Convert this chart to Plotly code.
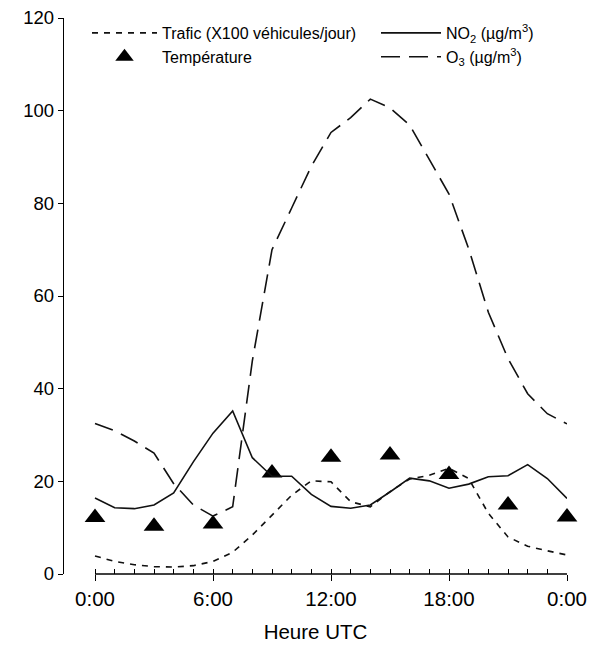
import plotly.graph_objects as go

hours = list(range(25))
trafic = [3.9, 2.7, 2.0, 1.6, 1.5, 1.8, 2.7, 4.7, 8.4, 12.7, 17.0, 20.1, 19.9,
          15.6, 14.5, 17.8, 20.5, 21.3, 22.8, 20.6, 13.1, 8.0, 6.0, 5.0, 4.1]
no2 = [16.4, 14.3, 14.1, 14.9, 17.5, 24.2, 30.4, 35.2, 25.1, 21.1, 21.1, 17.2, 14.6,
       14.2, 14.9, 17.7, 20.7, 20.1, 18.5, 19.4, 21.0, 21.2, 23.6, 20.6, 16.3]
o3 = [32.5, 30.9, 28.7, 26.1, 19.5, 14.9, 12.5, 14.5, 46.0, 70.0, 79.0, 88.0, 95.3,
      98.5, 102.5, 100.6, 96.9, 89.5, 82.0, 70.2, 56.5, 46.5, 38.9, 34.6, 32.4]
temp_hours = [0, 3, 6, 9, 12, 15, 18, 21, 24]
temperature = [12.2, 10.3, 10.8, 21.8, 25.2, 25.7, 21.5, 14.9, 12.3]

major_ticks = [0, 6, 12, 18, 24]
major_labels = ["0:00", "6:00", "12:00", "18:00", "0:00"]
y_ticks = [0, 20, 40, 60, 80, 100, 120]

FONT = "Liberation Sans, Arial, sans-serif"
INK = "#111111"

# the page body has an 8px margin, so the figure is 8px smaller than the window
OFF = 8
W, H = 596 - OFF, 648 - OFF
ML, MR, MT, MB = 64 - OFF, 29, 18 - OFF, 74
plot_w = W - ML - MR
plot_h = H - MT - MB
px_per_hour = (plot_w - 31) / 24.0
x_min = -31 / px_per_hour
x_range = [x_min, 24]


def px_x(px):
    return (px - OFF - ML) / plot_w


def px_y(py):
    return (H - MB - (py - OFF)) / plot_h


fig = go.Figure()
fig.add_trace(go.Scatter(
    x=hours, y=trafic, mode="lines", name="Trafic (X100 véhicules/jour)",
    line=dict(color=INK, width=1.6, dash="6px,6px"), legend="legend"))
fig.add_trace(go.Scatter(
    x=temp_hours, y=temperature, mode="markers", name="Température",
    marker=dict(symbol="triangle-up", size=18, color="black"),
    cliponaxis=False, legend="legend"))
fig.add_trace(go.Scatter(
    x=hours, y=no2, mode="lines", name="NO<sub>2</sub> (µg/m<sup>3</sup>)",
    line=dict(color=INK, width=1.6), legend="legend2"))
fig.add_trace(go.Scatter(
    x=hours, y=o3, mode="lines", name="O<sub>3</sub> (µg/m<sup>3</sup>)",
    line=dict(color=INK, width=1.6, dash="19px,9px"), legend="legend2"))
# invisible helper so the hourly tick axis is drawn
fig.add_trace(go.Scatter(x=[hours[0], hours[-1]], y=[None, None], mode="lines",
                         xaxis="x2", showlegend=False, hoverinfo="skip"))

fig.update_layout(
    width=W, height=H,
    margin=dict(l=ML, r=MR, t=MT, b=MB, autoexpand=False),
    paper_bgcolor="white", plot_bgcolor="white",
    font=dict(family=FONT, size=18, color="black"),
    showlegend=True,
    legend=dict(x=px_x(87), y=px_y(16),
                xanchor="left", yanchor="top", orientation="v",
                itemwidth=65, font=dict(size=16), bgcolor="rgba(0,0,0,0)",
                traceorder="normal"),
    legend2=dict(x=px_x(376), y=px_y(16),
                 xanchor="left", yanchor="top", orientation="v",
                 itemwidth=60, font=dict(size=16), bgcolor="rgba(0,0,0,0)",
                 traceorder="normal"),
    xaxis=dict(range=x_range, tickmode="array",
               tickvals=major_ticks, ticktext=major_labels,
               tickfont=dict(size=20.5), ticklabeloverflow="allow",
               ticks="outside", ticklen=6, tickwidth=1.3, tickcolor="black",
               showline=False, showgrid=False, zeroline=False, automargin=False,
               title=dict(text="Heure UTC", font=dict(size=20.5), standoff=16)),
    xaxis2=dict(range=x_range, overlaying="x", anchor="y", side="bottom",
                tickmode="array", tickvals=hours,
                ticks="inside", ticklen=5, tickwidth=1.3,
                tickcolor="black", showticklabels=False, showline=False,
                showgrid=False, zeroline=False, automargin=False),
    yaxis=dict(range=[0, 120], tickmode="array", tickvals=y_ticks,
               tickfont=dict(size=18.5), ticklabeloverflow="allow",
               ticks="outside", ticklen=5, tickwidth=1.3, tickcolor="black",
               showline=True, linecolor="black", linewidth=1.3,
               showgrid=False, zeroline=False, automargin=False),
    shapes=[dict(type="line", xref="x", yref="y domain",
                 x0=hours[0], x1=hours[-1], y0=0, y1=0,
                 line=dict(color="black", width=1.3), layer="above")],
)

fig.write_html("out.html")
